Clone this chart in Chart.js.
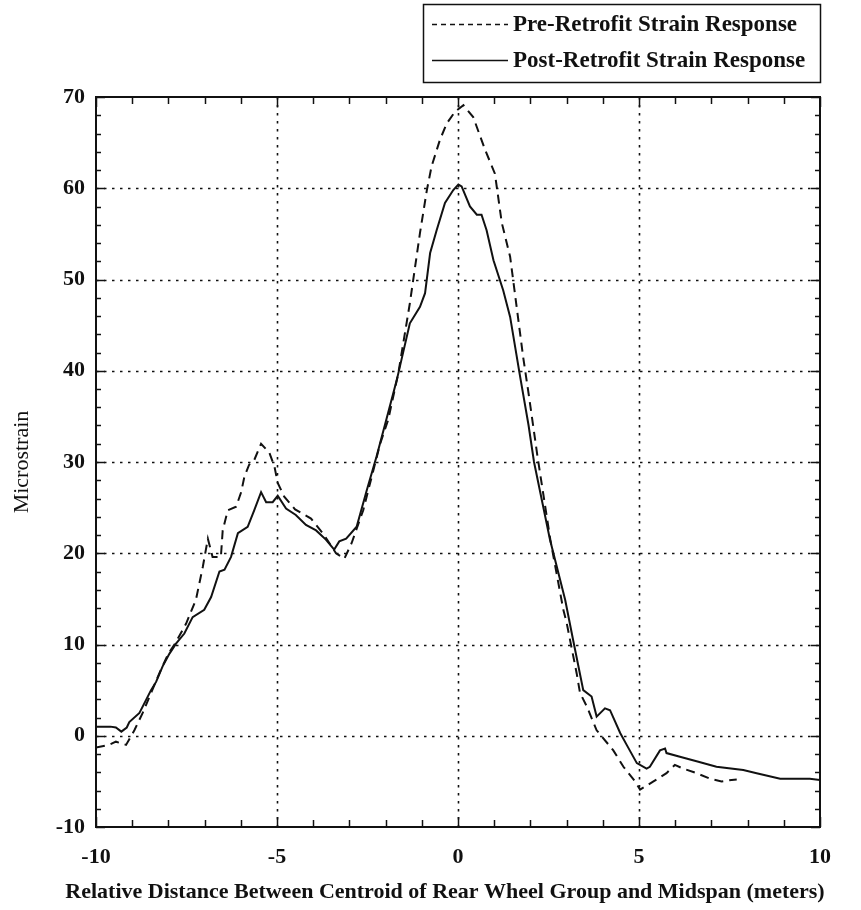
<!DOCTYPE html>
<html>
<head>
<meta charset="utf-8">
<script src="https://cdn.jsdelivr.net/npm/chart.js@4/dist/chart.umd.min.js"></script>
<style>
html,body{margin:0;padding:0;background:#fff;}
#wrap{width:861px;height:910px;position:relative;}
</style>
</head>
<body>
<div id="wrap"><canvas id="c" width="861" height="910"></canvas></div>
<script>
// ---- data ----
const preLabel = "Pre-Retrofit Strain Response";
const postLabel = "Post-Retrofit Strain Response";
const xTitle = "Relative Distance Between Centroid of Rear Wheel Group and Midspan (meters)";
const yTitle = "Microstrain";

const preX = [-10,-9.64,-9.45,-9.17,-8.94,-8.71,-8.5,-8.2,-8.0,-7.8,-7.51,-7.24,-7.05,-6.91,-6.78,-6.55,-6.5,-6.36,-6.13,-5.99,-5.9,-5.77,-5.63,-5.44,-5.21,-5.07,-4.98,-4.8,-4.5,-4.06,-3.7,-3.37,-3.14,-2.94,-2.62,-2.15,-1.93,-1.65,-1.33,-1.05,-0.86,-0.73,-0.5,-0.31,-0.08,0.15,0.42,0.75,1.02,1.21,1.44,1.62,1.8,1.95,2.2,2.55,2.91,3.0,3.28,3.37,3.56,3.83,4.29,4.57,4.89,5.03,5.4,5.76,5.99,6.22,6.59,6.96,7.28,7.56,7.7];
const preY = [-1.3,-1.0,-0.65,-1.0,0.6,2.5,4.5,7.3,9.0,10.2,12.3,14.9,18.5,21.6,19.6,19.6,22.5,24.7,25.1,26.7,28.4,29.7,30.2,32.0,31.0,29.5,27.7,26.2,24.8,23.8,22.0,20.0,19.4,21.1,24.7,32.0,34.6,39.7,47.4,55.1,59.8,62.4,65.3,67.1,68.4,69.1,67.8,64.2,61.6,56.2,52.5,47.0,41.5,37.5,30.5,21.5,13.8,12.4,6.8,4.7,3.2,0.6,-1.6,-3.4,-5.0,-5.9,-5.0,-4.1,-3.2,-3.6,-4.1,-4.7,-5.0,-4.85,-4.8];

const postX = [-10,-9.6,-9.45,-9.3,-9.15,-9.08,-8.8,-8.62,-8.48,-8.34,-8.16,-7.97,-7.79,-7.56,-7.33,-7.01,-6.82,-6.59,-6.45,-6.27,-6.08,-5.81,-5.63,-5.44,-5.3,-5.12,-4.98,-4.75,-4.48,-4.2,-3.92,-3.65,-3.42,-3.28,-3.09,-2.8,-2.52,-2.25,-1.97,-1.69,-1.33,-1.05,-0.91,-0.77,-0.59,-0.36,-0.13,0.01,0.1,0.33,0.52,0.65,0.79,0.98,1.25,1.44,1.71,1.95,2.1,2.54,2.96,3.18,3.46,3.69,3.83,4.06,4.2,4.48,4.66,4.94,5.21,5.3,5.58,5.72,5.76,6.13,6.59,7.14,7.88,8.25,8.9,9.72,10];
const postY = [1.0,1.0,0.9,0.45,0.9,1.5,2.5,3.9,5.0,5.9,7.6,9.0,10.1,11.2,13.0,13.8,15.2,18.0,18.2,19.6,22.2,22.9,24.7,26.7,25.6,25.6,26.3,24.9,24.2,23.1,22.5,21.5,20.4,21.3,21.6,22.9,26.9,30.6,34.8,39.0,45.2,47.0,48.5,52.9,55.4,58.4,59.8,60.4,60.2,58.0,57.1,57.1,55.4,52.1,48.8,45.9,39.5,34.0,30.0,21.5,14.9,10.5,5.0,4.3,2.1,3.0,2.8,0.3,-1.0,-3.0,-3.6,-3.4,-1.6,-1.4,-1.9,-2.3,-2.8,-3.4,-3.75,-4.1,-4.7,-4.7,-4.85];

const xMin = -10, xMax = 10, xMajor = 5, xMinor = 1;
const yMin = -10, yMax = 70, yMajor = 10, yMinor = 2;

const toPts = (xs, ys) => xs.map((x, i) => ({x: x, y: ys[i]}));

const SERIF = "'Liberation Serif', 'Times New Roman', serif";
const INK = '#111';

const frame = {
  id: 'frame',
  beforeDatasetsDraw(chart) {
    const {ctx, chartArea: a, scales: {x, y}} = chart;
    ctx.save();
    ctx.strokeStyle = INK;
    ctx.lineWidth = 1.6;
    ctx.setLineDash([2.5, 5.5]);
    for (let v = xMin + xMajor; v < xMax; v += xMajor) {
      const px = Math.round(x.getPixelForValue(v)) + 0.5;
      ctx.beginPath(); ctx.moveTo(px, a.top); ctx.lineTo(px, a.bottom); ctx.stroke();
    }
    for (let v = yMin + yMajor; v < yMax; v += yMajor) {
      const py = Math.round(y.getPixelForValue(v)) + 0.5;
      ctx.beginPath(); ctx.moveTo(a.left, py); ctx.lineTo(a.right, py); ctx.stroke();
    }
    ctx.restore();
  },
  afterDatasetsDraw(chart) {
    const {ctx, chartArea: a, scales: {x, y}} = chart;
    ctx.save();
    ctx.strokeStyle = INK;
    ctx.setLineDash([]);
    ctx.lineWidth = 1.5;
    for (let v = xMin; v <= xMax + 1e-9; v += xMinor) {
      const px = Math.round(x.getPixelForValue(v)) + 0.5;
      const len = (Math.abs(v % xMajor) < 1e-9) ? 10 : 7;
      ctx.beginPath(); ctx.moveTo(px, a.bottom); ctx.lineTo(px, a.bottom - len); ctx.stroke();
      ctx.beginPath(); ctx.moveTo(px, a.top); ctx.lineTo(px, a.top + len); ctx.stroke();
    }
    for (let v = yMin; v <= yMax + 1e-9; v += yMinor) {
      const py = Math.round(y.getPixelForValue(v)) + 0.5;
      const len = (Math.abs(v % yMajor) < 1e-9) ? 9 : 5;
      ctx.beginPath(); ctx.moveTo(a.left, py); ctx.lineTo(a.left + len, py); ctx.stroke();
      ctx.beginPath(); ctx.moveTo(a.right, py); ctx.lineTo(a.right - len, py); ctx.stroke();
    }
    ctx.lineWidth = 2;
    ctx.strokeRect(a.left, a.top, a.right - a.left, a.bottom - a.top);
    ctx.restore();
  },
  afterDraw(chart) {
    const {ctx, chartArea: a} = chart;
    const ds = chart.data.datasets;
    ctx.save();
    // axis titles
    ctx.fillStyle = INK;
    ctx.textAlign = 'center';
    ctx.textBaseline = 'middle';
    ctx.font = "bold 22px " + SERIF;
    ctx.fillText(xTitle, 445, 892);
    ctx.save();
    ctx.translate(22, (a.top + a.bottom) / 2);
    ctx.rotate(-Math.PI / 2);
    ctx.font = "22px " + SERIF;
    ctx.fillText(yTitle, 0, 0);
    ctx.restore();
    // legend
    ctx.strokeStyle = INK;
    ctx.lineWidth = 1.5;
    ctx.setLineDash([]);
    ctx.strokeRect(423.5, 4.5, 397, 78);
    const rows = [24, 60];
    ds.forEach((d, i) => {
      const yy = rows[i] + 0.5;
      ctx.lineWidth = 1.6;
      ctx.setLineDash(d.borderDash && d.borderDash.length ? [5, 4] : []);
      ctx.beginPath(); ctx.moveTo(432, yy); ctx.lineTo(508, yy); ctx.stroke();
      ctx.setLineDash([]);
      ctx.fillStyle = INK;
      ctx.font = "bold 23px " + SERIF;
      ctx.textBaseline = 'middle';
      ctx.textAlign = 'left';
      ctx.fillText(d.label, 513, rows[i] + 1);
    });
    ctx.restore();
  }
};

new Chart(document.getElementById('c'), {
  type: 'scatter',
  data: {
    datasets: [
      {label: preLabel, data: toPts(preX, preY), showLine: true, borderColor: INK, borderWidth: 2, borderDash: [9, 6], pointRadius: 0, tension: 0, fill: false},
      {label: postLabel, data: toPts(postX, postY), showLine: true, borderColor: INK, borderWidth: 2, pointRadius: 0, tension: 0, fill: false}
    ]
  },
  options: {
    responsive: false,
    animation: false,
    events: [],
    layout: {padding: {top: 97, right: 41, left: 0, bottom: 0}},
    plugins: {legend: {display: false}, tooltip: {enabled: false}},
    scales: {
      x: {
        type: 'linear', min: xMin, max: xMax,
        grid: {display: false, drawTicks: false},
        border: {display: false},
        ticks: {stepSize: xMajor, color: INK, padding: 17, maxRotation: 0,
          font: {family: SERIF, size: 22, weight: 'bold'}},
        title: {display: false},
        afterFit(s) { s.height = 83; }
      },
      y: {
        type: 'linear', min: yMin, max: yMax,
        grid: {display: false, drawTicks: false},
        border: {display: false},
        ticks: {stepSize: yMajor, color: INK, padding: 11,
          font: {family: SERIF, size: 22, weight: 'bold'}},
        title: {display: false},
        afterFit(s) { s.width = 96; }
      }
    }
  },
  plugins: [frame]
});
</script>
</body>
</html>
